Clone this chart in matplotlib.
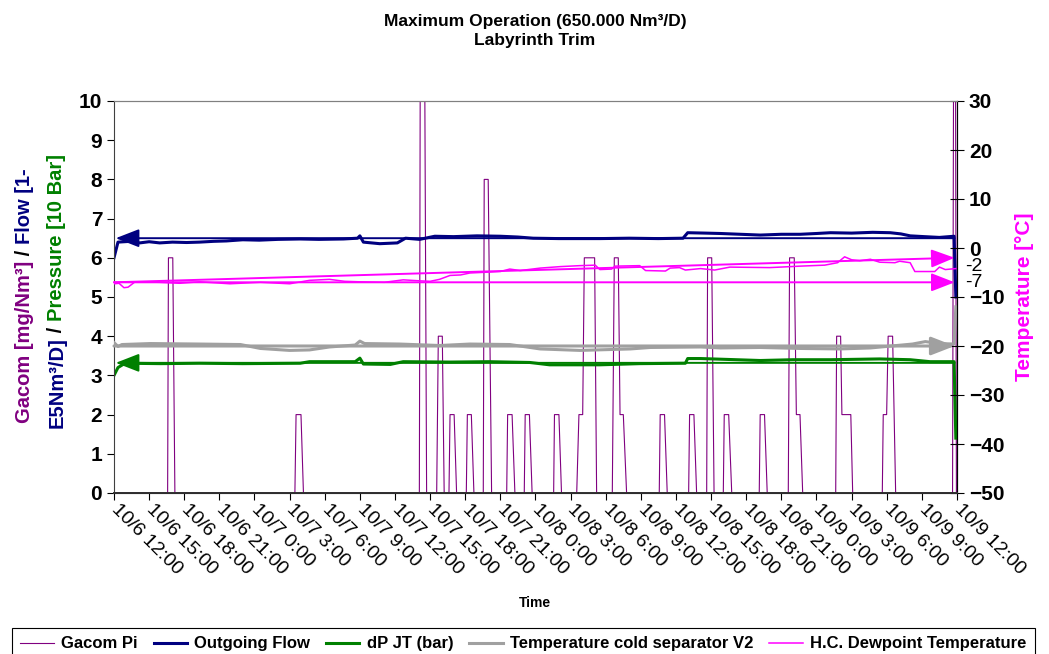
import matplotlib.pyplot as plt
from matplotlib.patches import ArrowStyle

plt.rcParams['font.family'] = ['Liberation Sans', 'DejaVu Sans']

# time axis: hours after 10/6 12:00, tick every 3 hours
tick_hours = list(range(0, 73, 3))
tick_labels = ['10/6 12:00', '10/6 15:00', '10/6 18:00', '10/6 21:00',
               '10/7 0:00', '10/7 3:00', '10/7 6:00', '10/7 9:00',
               '10/7 12:00', '10/7 15:00', '10/7 18:00', '10/7 21:00',
               '10/8 0:00', '10/8 3:00', '10/8 6:00', '10/8 9:00',
               '10/8 12:00', '10/8 15:00', '10/8 18:00', '10/8 21:00',
               '10/9 0:00', '10/9 3:00', '10/9 6:00', '10/9 9:00',
               '10/9 12:00']

# Gacom Pi [mg/Nm3]
gacom_t = [0.0, 4.58, 4.65, 5.02, 5.20, 15.45, 15.55, 15.97, 16.18,
           26.08, 26.15, 26.55, 26.70, 27.56, 27.70, 28.04, 28.20,
           28.61, 28.70, 29.05, 29.26, 30.09, 30.18, 30.52, 30.74,
           31.54, 31.62, 31.96, 32.25, 33.54, 33.62, 34.00, 34.24,
           35.04, 35.12, 35.48, 35.71, 37.55, 37.62, 38.00, 38.22,
           39.52, 39.71, 40.03, 40.17, 41.05, 41.22,
           42.56, 42.73, 43.07, 43.22, 43.50, 43.78,
           46.57, 46.65, 47.02, 47.25, 49.08, 49.16, 49.53, 49.76,
           50.62, 50.70, 51.05, 51.25, 52.04, 52.12, 52.50, 52.76,
           55.11, 55.19, 55.56, 55.79,
           57.59, 57.70, 58.10, 58.28, 58.59, 58.82,
           61.64, 61.72, 62.06, 62.17, 62.93, 63.09,
           65.62, 65.70, 65.99, 66.12, 66.50, 66.76,
           71.62, 71.70, 71.88, 71.95]
gacom_v = [0, 0, 6, 6, 0, 0, 2, 2, 0,
           0, 10, 10, 0, 0, 4, 4, 0,
           0, 2, 2, 0, 0, 2, 2, 0,
           0, 8, 8, 0, 0, 2, 2, 0,
           0, 2, 2, 0, 0, 2, 2, 0,
           0, 2, 2, 6, 6, 0,
           0, 6, 6, 2, 2, 0,
           0, 2, 2, 0, 0, 2, 2, 0,
           0, 6, 6, 0, 0, 2, 2, 0,
           0, 2, 2, 0,
           0, 6, 6, 2, 2, 0,
           0, 4, 4, 2, 2, 0,
           0, 2, 2, 4, 4, 0,
           0, 10, 10, 0]

# Outgoing flow [1E5 Nm3/D]
flow_t = [0, 0.34, 1.4, 2.2, 3.0, 3.9, 5.0, 6.2, 7.3, 8.5, 9.6, 11.0, 12.4,
          14.0, 15.9, 17.5, 19.6, 20.8, 21.0, 21.3, 22.7, 24.2, 24.9, 26.1,
          27.4, 29.0, 31.0, 33.0, 34.5, 35.8, 38.0, 41.5, 44.0, 46.5, 48.6,
          49.0, 50.5, 51.8, 53.5, 55.2, 57.0, 58.6, 60.0, 61.2, 63.0, 64.8,
          66.3, 67.2, 68.0, 69.2, 70.5, 71.75, 71.9]
flow_v = [6.0, 6.40, 6.42, 6.38, 6.41, 6.38, 6.40, 6.39, 6.40, 6.42, 6.43,
          6.46, 6.45, 6.47, 6.48, 6.47, 6.48, 6.50, 6.56, 6.40, 6.36, 6.38,
          6.50, 6.47, 6.55, 6.54, 6.56, 6.55, 6.53, 6.50, 6.49, 6.49, 6.50,
          6.49, 6.50, 6.64, 6.63, 6.62, 6.60, 6.58, 6.60, 6.60, 6.62, 6.64,
          6.63, 6.65, 6.64, 6.61, 6.56, 6.54, 6.52, 6.55, 5.0]

# dP JT [10 bar]
dp_t = [0, 0.34, 0.94, 4.0, 7.3, 11.0, 15.9, 16.7, 20.6, 21.0, 21.3, 23.6,
        24.7, 28.7, 32.0, 35.5, 37.2, 41.5, 44.9, 48.8, 49.0, 50.1, 55.2,
        58.0, 61.2, 65.4, 68.0, 69.7, 71.75, 71.9]
dp_v = [3.0, 3.2, 3.31, 3.30, 3.31, 3.30, 3.31, 3.35, 3.35, 3.44, 3.29, 3.28,
        3.35, 3.34, 3.35, 3.33, 3.27, 3.27, 3.30, 3.31, 3.43, 3.43, 3.38,
        3.40, 3.40, 3.42, 3.40, 3.35, 3.35, 1.4]

# Temperature cold separator V2 [C]
sep_t = [0, 0.34, 0.68, 3.1, 7.3, 10.8, 12.5, 15.0, 16.7, 18.4, 20.6, 21.0,
         21.4, 24.4, 27.8, 30.4, 33.8, 36.4, 39.8, 44.1, 45.8, 50.1, 51.8,
         55.2, 58.6, 62.0, 64.6, 68.2, 69.3, 70.5, 71.75, 71.9]
sep_v = [-19.3, -20.1, -19.7, -19.5, -19.6, -19.7, -20.5, -20.9, -20.8, -20.2,
         -19.8, -19.0, -19.5, -19.6, -19.9, -19.6, -19.7, -20.6, -20.9, -20.6,
         -20.3, -20.2, -20.4, -20.3, -20.5, -20.6, -20.4, -19.6, -19.1, -19.5,
         -19.6, -12.0]

# H.C. dewpoint temperature [C]
dew_t = [0, 0.43, 0.85, 1.2, 1.8, 3.9, 5.6, 7.3, 9.9, 12.5, 15.0, 16.7, 18.4,
         19.7, 21.0, 23.1, 24.7, 26.1, 27.0, 27.8, 28.7, 29.6, 30.4, 31.3,
         33.0, 33.8, 34.7, 36.4, 38.1, 39.8, 41.1, 41.5, 42.5, 42.8, 44.9,
         45.4, 47.1, 47.5, 48.3, 48.8, 50.1, 51.3, 52.6, 56.0, 56.9, 58.6,
         60.7, 61.8, 62.4, 63.0, 63.7, 64.6, 65.4, 66.7, 67.1, 68.0, 68.4,
         70.1, 70.5, 71.0, 71.9]
dew_v = [-7.3, -7.2, -8.1, -8.0, -6.9, -7.0, -7.2, -6.9, -7.3, -7.0, -7.3,
         -6.6, -6.4, -6.8, -6.9, -7.0, -6.5, -6.7, -6.8, -6.4, -5.6, -5.5,
         -5.1, -5.0, -4.8, -4.3, -4.6, -4.1, -3.8, -3.6, -3.5, -4.4, -4.3,
         -3.7, -3.6, -4.6, -4.7, -4.1, -4.0, -4.5, -4.2, -4.5, -3.9, -4.0,
         -3.9, -3.7, -3.5, -3.0, -1.8, -2.4, -2.6, -2.3, -2.9, -3.0, -2.7,
         -3.0, -4.8, -4.8, -3.9, -4.4, -4.2]

# reference arrows
flow_ref = 6.5
dp_ref = 3.32
sep_ref = -20
dew_ref_low = -7
dew_ref_high = -2
ref_start, ref_end = 0.15, 71.8

fig = plt.figure(figsize=(10.49, 6.54), dpi=100)
ax1 = fig.add_axes([114 / 1049, 1 - 493 / 654, 843 / 1049, 392 / 654])
ax2 = ax1.twinx()

l_gacom, = ax1.plot(gacom_t, gacom_v, color='#800080', lw=0.8, label='Gacom Pi')
l_flow, = ax1.plot(flow_t, flow_v, color='#000080', lw=2.2, label='Outgoing Flow')
l_dp, = ax1.plot(dp_t, dp_v, color='#008000', lw=2.2, label='dP JT (bar)')
l_sep, = ax2.plot(sep_t, sep_v, color='#A0A0A0', lw=2.2,
                  label='Temperature cold separator V2')
l_dew, = ax2.plot(dew_t, dew_v, color='#FF00FF', lw=1.1,
                  label='H.C. Dewpoint Temperature')

head = ArrowStyle('-|>', head_length=0.9, head_width=0.35)
ax1.annotate('', xy=(ref_start, flow_ref), xytext=(ref_end, flow_ref),
             arrowprops=dict(arrowstyle=head, color='#000080', lw=1.4,
                             mutation_scale=16, shrinkA=0, shrinkB=0))
ax1.annotate('', xy=(ref_start, dp_ref), xytext=(ref_end, dp_ref),
             arrowprops=dict(arrowstyle=head, color='#008000', lw=1.4,
                             mutation_scale=16, shrinkA=0, shrinkB=0))
ax2.annotate('', xy=(ref_end, sep_ref), xytext=(0, sep_ref),
             arrowprops=dict(arrowstyle=head, color='#A0A0A0', lw=2.2,
                             mutation_scale=16, shrinkA=0, shrinkB=0))
ax2.annotate('', xy=(ref_end, dew_ref_low), xytext=(0, dew_ref_low),
             arrowprops=dict(arrowstyle=head, color='#FF00FF', lw=1.4,
                             mutation_scale=16, shrinkA=0, shrinkB=0))
ax2.annotate('', xy=(ref_end, dew_ref_high), xytext=(0, dew_ref_low),
             arrowprops=dict(arrowstyle=head, color='#FF00FF', lw=1.4,
                             mutation_scale=16, shrinkA=0, shrinkB=0))
ax2.text(1.01, dew_ref_high, '-2', transform=ax2.get_yaxis_transform(),
         fontsize=14, va='top', ha='left')
ax2.text(1.01, dew_ref_low, '-7', transform=ax2.get_yaxis_transform(),
         fontsize=14, va='center', ha='left')

ax1.set_xlim(0, 72)
ax1.set_ylim(0, 10)
ax2.set_ylim(-50, 30)
ax1.set_yticks(range(0, 11))
ax2.set_yticks(range(-50, 31, 10))
ax1.set_xticks(tick_hours)
ax1.set_xticklabels(tick_labels, rotation=-45, ha='left', va='center',
                    rotation_mode='anchor', fontsize=14)

ax1.tick_params(axis='y', direction='out', length=5, labelsize=15)
ax2.tick_params(axis='y', direction='inout', length=10, labelsize=15)
ax1.tick_params(axis='x', direction='out', length=5, pad=5)
for lbl in ax1.get_yticklabels() + ax2.get_yticklabels():
    lbl.set_fontweight('bold')

for ax in (ax1, ax2):
    ax.spines['top'].set_color('#808080')
ax1.spines['left'].set_color('#404040')
ax2.spines['left'].set_visible(False)
ax2.spines['bottom'].set_linewidth(1.4)
ax2.spines['bottom'].set_color('#303030')

fig.text(535 / 1049, 1 - 31 / 654, 'Maximum Operation (650.000 Nm³/D)\nLabyrinth Trim',
         ha='center', va='center', fontsize=12.5, fontweight='bold',
         linespacing=1.35)
fig.text(535 / 1049, 1 - 603 / 654, 'Time', ha='center', va='center',
         fontsize=10, fontweight='bold')
fig.text(1025 / 1049, 1 - 297 / 654, 'Temperature [°C]', rotation=90,
         ha='center', va='center', fontsize=15, fontweight='bold', color='#FF00FF')


# multi-coloured rotated axis title, built piece by piece along the line
def text_len(s, size):
    t = fig.text(0, 0, s + '|', fontsize=size, fontweight='bold')
    w = t.get_window_extent(fig.canvas.get_renderer()).width
    t.remove()
    return w


def coloured_line(x, y_center, pieces, size=14.5):
    bar = text_len('', size)
    full = ''.join(s for s, c in pieces)
    total = text_len(full, size) - bar
    y0 = y_center - total / 2
    prefix = ''
    for s, c in pieces:
        off = text_len(prefix, size) - bar if prefix else 0
        fig.text(x / 1049, (y0 + off) / 654, s, color=c, rotation=90,
                 rotation_mode='anchor', ha='left', va='center',
                 fontsize=size, fontweight='bold')
        prefix += s


coloured_line(24, 654 - 296, [('Gacom [mg/Nm³]', '#800080'), (' / ', 'black'),
                              ('Flow [1-', '#000080')])
coloured_line(57, 654 - 291, [('E5Nm³/D]', '#000080'), (' / ', 'black'),
                              ('Pressure [10 Bar]', '#008000')])

leg = fig.legend([l_gacom, l_flow, l_dp, l_sep, l_dew],
                 [l.get_label() for l in (l_gacom, l_flow, l_dp, l_sep, l_dew)],
                 loc='upper left', bbox_to_anchor=(12 / 1049, 1 - 628 / 654),
                 ncol=5, fancybox=False, edgecolor='black', framealpha=1,
                 prop={'weight': 'bold', 'size': 12}, handlelength=2.0,
                 handletextpad=0.45, columnspacing=0.95, borderpad=0.5,
                 borderaxespad=0)
leg.get_frame().set_linewidth(0.8)

fig.savefig('out.png', dpi=100)
